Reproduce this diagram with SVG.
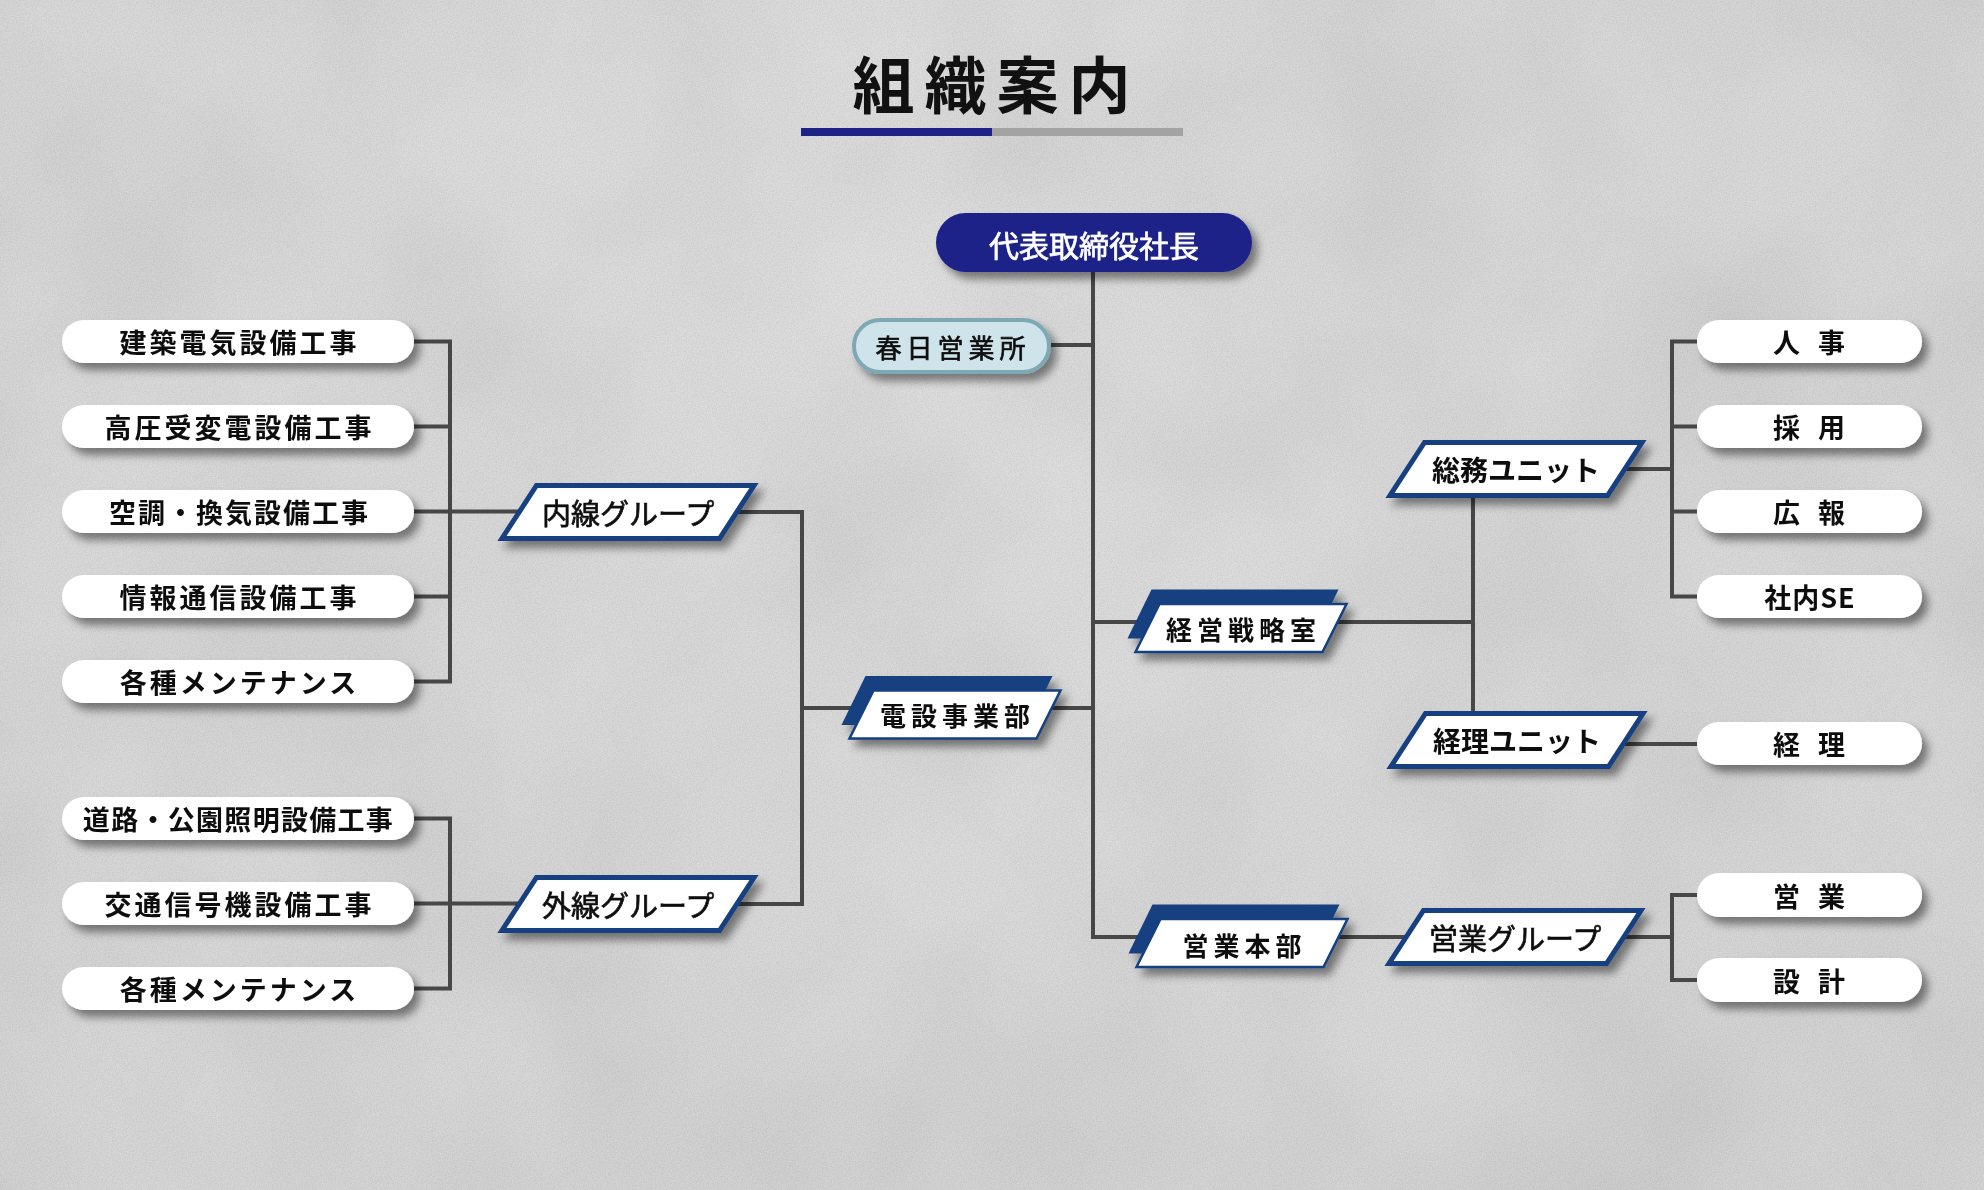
<svg xmlns="http://www.w3.org/2000/svg" width="1984" height="1190" viewBox="0 0 1984 1190">
<defs>
<style>
.t{font-family:"Noto Sans CJK JP","Noto Sans",sans-serif;font-weight:700;fill:#111;dominant-baseline:central;text-anchor:middle}
.r{font-weight:400;stroke:#111;stroke-width:0.7}
.w{fill:#fff;stroke:#fff}
.pill{fill:#fff}
.ln{fill:none;stroke:#474747;stroke-width:4}
.grp{fill:#fff;stroke:#163f80;stroke-width:5;stroke-linejoin:miter}
.dback{fill:#143f80}
.dfront{fill:#fff;stroke:#143f80;stroke-width:2.5}
</style>
<radialGradient id="bg" cx="900" cy="300" r="1300" gradientUnits="userSpaceOnUse">
<stop offset="0" stop-color="#cecece"/>
<stop offset="1" stop-color="#bfbfbf"/>
</radialGradient>
<filter id="mottle" x="0" y="0" width="100%" height="100%">
<feTurbulence type="fractalNoise" baseFrequency="0.004" numOctaves="3" seed="7"/>
<feColorMatrix type="matrix" values="1 0 0 0 0.3 1 0 0 0 0.3 1 0 0 0 0.3 0 0 0 0 0.2"/>
</filter>
<filter id="grain" x="0" y="0" width="100%" height="100%">
<feTurbulence type="fractalNoise" baseFrequency="0.8" numOctaves="2" seed="3"/>
<feColorMatrix type="matrix" values="1 0 0 0 0.3 1 0 0 0 0.3 1 0 0 0 0.3 0 0 0 0 0.2"/>
</filter>
<filter id="sh" x="-15%" y="-40%" width="135%" height="200%">
<feDropShadow dx="6" dy="7" stdDeviation="4" flood-color="#000" flood-opacity="0.45"/>
</filter>
<polygon id="gshape" class="grp" points="-91.5,-26.5 126,-26.5 91.5,26.5 -126,26.5"/>
<polygon id="dbk" class="dback" points="-89.5,-38.5 97.5,-38.5 73.5,10.5 -113.5,10.5"/>
<polygon id="dfr" class="dfront" points="-81.5,-24 105.5,-24 81.5,24 -105.5,24"/>
</defs>

<g id="background">
<rect width="1984" height="1190" fill="url(#bg)"/>
<rect width="1984" height="1190" filter="url(#mottle)"/>
<rect width="1984" height="1190" filter="url(#grain)"/>
</g>

<g id="title">
<text class="t" x="996.5" y="82" font-size="62" letter-spacing="10">組織案内</text>
<rect x="801" y="128" width="191" height="8" fill="#1e2287"/>
<rect x="992" y="128" width="191" height="8" fill="#a3a3a3"/>
</g>

<g id="connectors">
<path class="ln" d="M1093,272 V937 H1160"/>
<path class="ln" d="M1051,345 H1093"/>
<path class="ln" d="M1093,708 H1040"/>
<path class="ln" d="M1093,622 H1180"/>
<path class="ln" d="M1320,622 H1473"/>
<path class="ln" d="M1473,490 V715"/>
<path class="ln" d="M1600,469 H1672"/>
<path class="ln" d="M1697,341.5 H1672 V596.5 H1697 M1672,426.5 H1697 M1672,511.5 H1697"/>
<path class="ln" d="M1600,744 H1697"/>
<path class="ln" d="M1320,937 H1420"/>
<path class="ln" d="M1600,937 H1672"/>
<path class="ln" d="M1697,895 H1672 V980 H1697"/>
<path class="ln" d="M900,708 H802"/>
<path class="ln" d="M720,512 H802 V904 H720"/>
<path class="ln" d="M413,341.5 H450 V681.5 H413 M413,426.5 H450 M413,596.5 H450 M413,511.5 H520"/>
<path class="ln" d="M413,818.5 H450 V988.5 H413 M413,903.5 H520"/>
</g>

<g id="ceo" filter="url(#sh)">
<rect x="936" y="213" width="316" height="59" rx="29.5" fill="#1e2287"/>
<text class="t r w" x="1094" y="243.5" font-size="30" style="fill:#fff;stroke:#fff">代表取締役社長</text>
</g>

<g id="kasuga" filter="url(#sh)">
<rect x="854" y="320" width="195" height="52" rx="26" fill="#cfe4ea" stroke="#7ea8b4" stroke-width="4"/>
<text class="t r" x="953" y="346" font-size="26" letter-spacing="5">春日営業所</text>
</g>

<g id="left-1" filter="url(#sh)"><rect class="pill" x="62" y="320" width="352" height="43" rx="21.5"/><text class="t" x="239.5" y="341.5" font-size="27" letter-spacing="3">建築電気設備工事</text></g>
<g id="left-2" filter="url(#sh)"><rect class="pill" x="62" y="405" width="352" height="43" rx="21.5"/><text class="t" x="239.5" y="426.5" font-size="27" letter-spacing="3">高圧受変電設備工事</text></g>
<g id="left-3" filter="url(#sh)"><rect class="pill" x="62" y="490" width="352" height="43" rx="21.5"/><text class="t" x="239.5" y="511.5" font-size="27" letter-spacing="2">空調・換気設備工事</text></g>
<g id="left-4" filter="url(#sh)"><rect class="pill" x="62" y="575" width="352" height="43" rx="21.5"/><text class="t" x="239.5" y="596.5" font-size="27" letter-spacing="3">情報通信設備工事</text></g>
<g id="left-5" filter="url(#sh)"><rect class="pill" x="62" y="660" width="352" height="43" rx="21.5"/><text class="t" x="239.5" y="681.5" font-size="27" letter-spacing="3">各種メンテナンス</text></g>
<g id="left-6" filter="url(#sh)"><rect class="pill" x="62" y="797" width="352" height="43" rx="21.5"/><text class="t" x="238.5" y="818.5" font-size="27" letter-spacing="1.3">道路・公園照明設備工事</text></g>
<g id="left-7" filter="url(#sh)"><rect class="pill" x="62" y="882" width="352" height="43" rx="21.5"/><text class="t" x="239.5" y="903.5" font-size="27" letter-spacing="3">交通信号機設備工事</text></g>
<g id="left-8" filter="url(#sh)"><rect class="pill" x="62" y="967" width="352" height="43" rx="21.5"/><text class="t" x="239.5" y="988.5" font-size="27" letter-spacing="3">各種メンテナンス</text></g>

<g id="naisen" filter="url(#sh)" transform="translate(628,512)"><use href="#gshape"/><text class="t r" x="0" y="0" font-size="29">内線グループ</text></g>
<g id="gaisen" filter="url(#sh)" transform="translate(628,904)"><use href="#gshape"/><text class="t r" x="0" y="0" font-size="29">外線グループ</text></g>

<g id="densetsu" filter="url(#sh)" transform="translate(955,714.5)"><use href="#dbk"/><use href="#dfr"/><text class="t" x="2.5" y="0" font-size="26" letter-spacing="5">電設事業部</text></g>
<g id="keiei" filter="url(#sh)" transform="translate(1241,628)"><use href="#dbk"/><use href="#dfr"/><text class="t" x="2.5" y="0" font-size="26" letter-spacing="5">経営戦略室</text></g>
<g id="eigyo-honbu" filter="url(#sh)" transform="translate(1242,943)"><use href="#dbk"/><use href="#dfr"/><text class="t" x="2.5" y="1" font-size="26" letter-spacing="5">営業本部</text></g>

<g id="somu" filter="url(#sh)" transform="translate(1516,469)"><use href="#gshape"/><text class="t" x="0" y="0" font-size="28">総務ユニット</text></g>
<g id="keiri-unit" filter="url(#sh)" transform="translate(1517,740)"><use href="#gshape"/><text class="t" x="0" y="0" font-size="28">経理ユニット</text></g>
<g id="eigyo-group" filter="url(#sh)" transform="translate(1515,937)"><use href="#gshape"/><text class="t r" x="0" y="0" font-size="29">営業グループ</text></g>

<g id="right-1" filter="url(#sh)"><rect class="pill" x="1697" y="320" width="225" height="43" rx="21.5"/><text class="t" x="1812" y="341.5" font-size="27" letter-spacing="6">人 事</text></g>
<g id="right-2" filter="url(#sh)"><rect class="pill" x="1697" y="405" width="225" height="43" rx="21.5"/><text class="t" x="1812" y="426.5" font-size="27" letter-spacing="6">採 用</text></g>
<g id="right-3" filter="url(#sh)"><rect class="pill" x="1697" y="490" width="225" height="43" rx="21.5"/><text class="t" x="1812" y="511.5" font-size="27" letter-spacing="6">広 報</text></g>
<g id="right-4" filter="url(#sh)"><rect class="pill" x="1697" y="575" width="225" height="43" rx="21.5"/><text class="t" x="1810" y="596.5" font-size="27" letter-spacing="1">社内SE</text></g>
<g id="right-5" filter="url(#sh)"><rect class="pill" x="1697" y="722" width="225" height="43" rx="21.5"/><text class="t" x="1812" y="743.5" font-size="27" letter-spacing="6">経 理</text></g>
<g id="right-6" filter="url(#sh)"><rect class="pill" x="1697" y="873" width="225" height="44" rx="22"/><text class="t" x="1812" y="895" font-size="27" letter-spacing="6">営 業</text></g>
<g id="right-7" filter="url(#sh)"><rect class="pill" x="1697" y="958" width="225" height="44" rx="22"/><text class="t" x="1812" y="980" font-size="27" letter-spacing="6">設 計</text></g>
</svg>
